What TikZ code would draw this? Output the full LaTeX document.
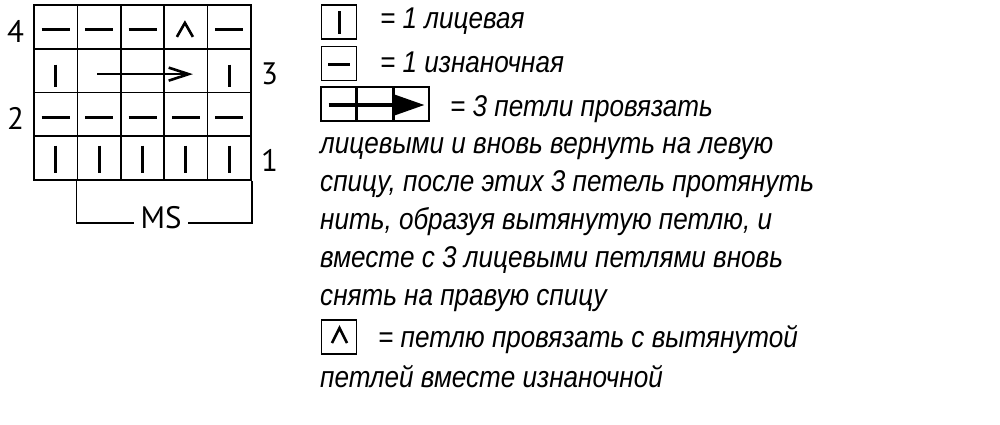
\documentclass[tikz,border=0pt]{standalone}
\usepackage{fontspec}
\setmainfont{Liberation Sans}
\newfontfamily\chartfont{PT Sans}
\newfontfamily\keyfont[FakeStretch=0.87]{Liberation Sans}
\usetikzlibrary{arrows.meta, positioning}
\tikzstyle{cell} = [rectangle, draw=black, line width=1.6pt, minimum width=43.4pt, minimum height=43.75pt, inner sep=0pt]
\tikzstyle{keybox} = [rectangle, draw=black, line width=1.5pt, minimum width=35pt, minimum height=34pt, inner sep=0pt]
\tikzstyle{stitch} = [line width=3pt]
\tikzstyle{rownum} = [font=\chartfont\fontsize{31}{31}\selectfont, inner sep=0pt]
\tikzstyle{keytext} = [font=\keyfont\itshape\fontsize{30}{38}\selectfont, inner sep=0pt, anchor=base west]
\tikzstyle{arrow} = [line width=2.6pt, -{Straight Barb[length=20pt, width=13pt, line width=2.6pt]}]

\begin{document}
\begin{tikzpicture}[x=1pt, y=-1pt, node distance=9pt]
\useasboundingbox (0,0) rectangle (1000,424);
% chart, row 1 at the bottom
\foreach \r in {1,...,4}
  \foreach \c in {1,...,5}
    \node (s-\r-\c) [cell] at ({34+43.4*(\c-0.5)}, {180-43.75*(\r-0.5)}) {};
\foreach \c in {1,...,5} {
  \draw [stitch] ([yshift=12.5pt]s-1-\c.center) -- ([yshift=-14.5pt]s-1-\c.center);
  \draw [stitch] ([xshift=-14pt,yshift=-3pt]s-2-\c.center) -- ([xshift=14pt,yshift=-3pt]s-2-\c.center);
}
\draw [stitch] ([yshift=6pt]s-3-1.center) -- ([yshift=-16pt]s-3-1.center);
\draw [stitch] ([yshift=6pt]s-3-5.center) -- ([yshift=-16pt]s-3-5.center);
\draw [arrow] ([xshift=-2pt,yshift=-3.5pt]s-3-2.center) -- ([xshift=7pt,yshift=-3.5pt]s-3-4.center);
\foreach \c in {1,2,3,5}
  \draw [stitch] ([xshift=-14pt,yshift=-3pt]s-4-\c.center) -- ([xshift=14pt,yshift=-3pt]s-4-\c.center);
\draw [stitch, line width=2.6pt] ([xshift=-9pt,yshift=-10pt]s-4-4.center) -- ([xshift=-1pt,yshift=4pt]s-4-4.center) -- ([xshift=7pt,yshift=-10pt]s-4-4.center);
% row numbers
\node (n4) [rownum, left=9pt of s-4-1, yshift=-5pt] {4};
\node (n3) [rownum, right=9pt of s-3-5, yshift=-3pt] {3};
\node (n2) [rownum, left=9pt of s-2-1, yshift=-4pt] {2};
\node (n1) [rownum, right=9pt of s-1-5, yshift=-2pt] {1};
% repeat
\draw [line width=1.6pt] (s-1-2.south west) -- ++(0,42) -| (s-1-5.south east);
\node (ms) [rownum, fill=white, inner xsep=7pt] at (161,218) {MS};

% key
\node (k1) [keybox] at (339,22) {};
\draw [stitch] ([yshift=11pt]k1.center) -- ([yshift=-12pt]k1.center);
\node (t1) [keytext] at (380,28) {= 1 лицевая};
\node (k2) [keybox] at (339,63.5) {};
\draw [stitch] ([xshift=-11pt,yshift=-0.5pt]k2.center) -- ([xshift=11pt,yshift=-0.5pt]k2.center);
\node (t2) [keytext] at (380,72) {= 1 изнаночная};
\node (k3a) [keybox] at (338.5,104) {};
\node (k3b) [keybox, right=0pt of k3a] {};
\node (k3c) [keybox, right=0pt of k3b] {};
\draw [line width=3.5pt, -{Triangle[length=30pt, width=20pt]}] ([xshift=-10pt,yshift=-1pt]k3a.center) -- ([xshift=13pt,yshift=-1pt]k3c.center);
\node (t3) [keytext] at (450,116) {= 3 петли провязать};
\foreach \txt [count=\i] in {{лицевыми и вновь вернуть на левую},
    {спицу, после этих 3 петель протянуть},
    {нить, образуя вытянутую петлю, и},
    {вместе с 3 лицевыми петлями вновь},
    {снять на правую спицу}}
  \node (t3-\i) [keytext] at (320, {153+38*(\i-1)}) {\txt};
\node (k4) [keybox] at (339,337) {};
\draw [stitch, line width=2.6pt] ([xshift=-7pt,yshift=-6pt]k4.center) -- ([xshift=0.5pt,yshift=9pt]k4.center) -- ([xshift=8pt,yshift=-6pt]k4.center);
\node (t4) [keytext] at (378,347) {= петлю провязать с вытянутой};
\node (t5) [keytext] at (320,387) {петлей вместе изнаночной};
\end{tikzpicture}
\end{document}
